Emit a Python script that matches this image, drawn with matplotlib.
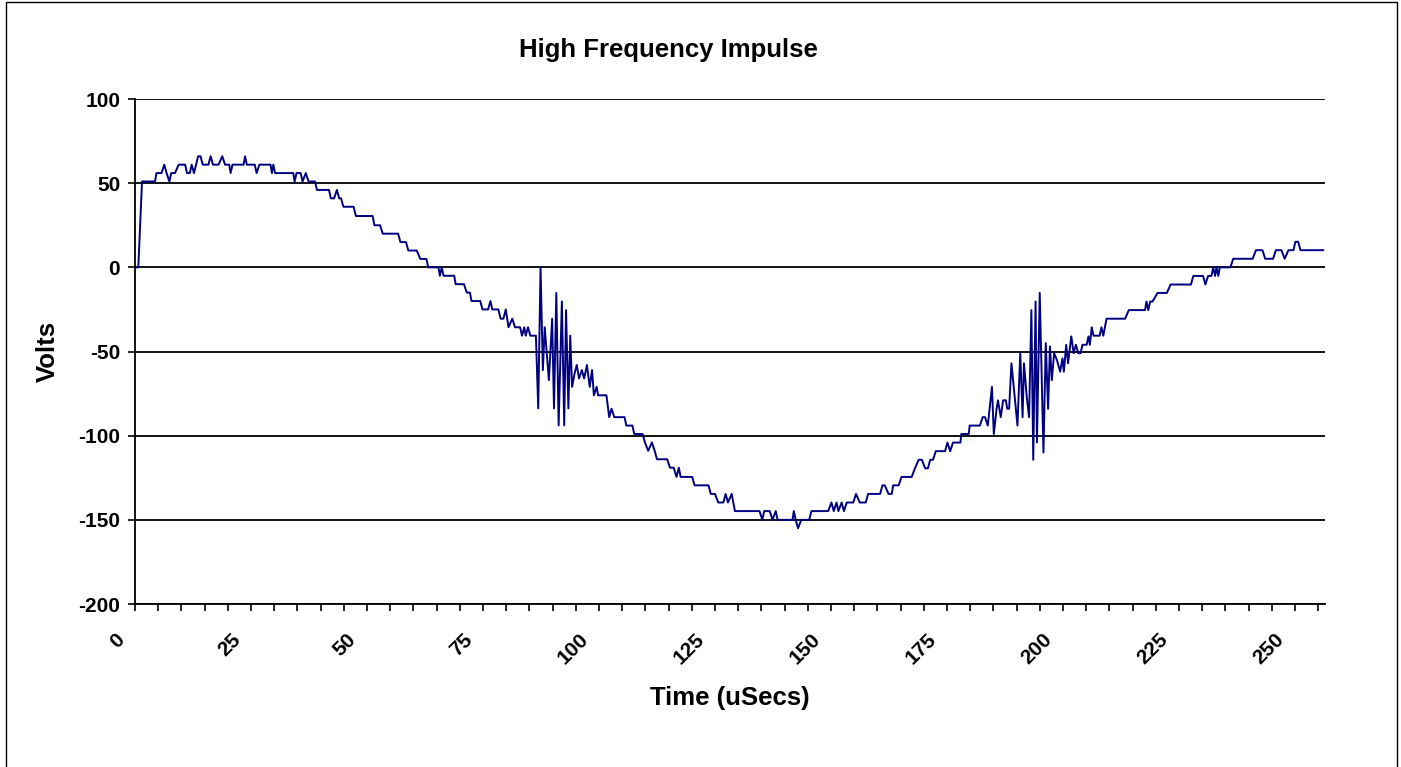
import matplotlib
matplotlib.use("Agg")
import matplotlib.pyplot as plt
from matplotlib.patches import Rectangle
from matplotlib.ticker import MultipleLocator
from matplotlib.transforms import ScaledTranslation

plt.rcParams["font.family"] = ["Liberation Sans", "DejaVu Sans"]
plt.rcParams["axes.unicode_minus"] = False

# Messpunkte (Zeit in us, Spannung in V)
t_us = [
    0, 0.7, 1.5, 4.3, 4.6, 5.7, 6.3, 6.8, 7.4, 7.8, 8.6, 9.4, 10.8, 11.2, 11.8, 12.2, 12.7,
    13.6, 14.1, 14.6, 15.8, 16.3, 16.8, 18.0, 18.8, 19.4, 20.3, 20.6, 21.0, 23.4, 23.7, 24.1,
    25.8, 26.2, 26.8, 29.2, 29.5, 29.8, 30.2, 34.1, 34.4, 34.8, 35.7, 36.1, 36.8, 37.4, 38.8,
    39.2, 41.8,
    42.2, 42.9, 43.5, 44.0, 44.4, 44.9, 47.1, 47.6, 51.2, 51.6, 52.8, 53.4, 56.7, 57.2, 58.4,
    58.9, 60.7, 61.5, 62.8, 63.2, 65.4, 65.7, 66.1, 66.5, 68.8, 69.1, 70.9, 71.5, 72.2, 72.5,
    74.4, 74.9, 76.1, 76.6, 77.0, 78.3, 78.8, 79.4, 79.9, 80.5, 81.3, 81.9,
    83.0, 83.4, 83.9, 84.2, 84.7, 85.2, 86.4, 86.9, 87.4, 87.9, 88.3, 89.2, 89.9, 90.3, 90.8,
    91.3, 92.0, 92.5, 92.9, 93.4, 93.8, 94.2, 94.7, 95.2, 95.7, 96.3, 96.8, 97.4, 98.0, 98.5,
    98.9, 99.5, 99.8, 101.6, 102.2, 102.7, 103.3, 105.5, 105.9, 107.2, 107.6, 109.4, 109.9,
    110.6, 111.4, 112.0, 112.5, 114.7, 115.3, 116.1, 116.7, 117.2, 117.6, 120.1, 120.6,
    123.6, 124.1, 125.0, 125.7, 126.8, 127.3, 127.8, 128.6, 129.3, 134.6, 135.2, 135.6, 136.8,
    137.4, 138.1, 138.5, 141.7, 142.0, 142.4, 142.9, 143.6, 145.3, 145.8, 149.4, 150.1, 150.6,
    151.2, 151.6, 152.3, 152.8, 153.4, 154.8, 155.4, 156.2, 157.5, 158.0, 159.1, 160.6, 161.1,
    161.6, 162.4, 163.1, 163.4, 164.6,
    165.2, 167.4, 168.1, 168.9, 169.6, 170.3, 170.9, 171.4, 172.0, 172.6, 174.6, 175.1, 175.7,
    176.3, 177.9, 178.1, 179.7, 179.9, 182.1, 182.7, 183.2, 183.8, 184.7, 185.1, 185.7, 186.0,
    186.6, 187.1, 187.7, 188.0, 188.4, 188.9, 190.2, 190.8, 191.3, 191.6, 192.2, 192.7, 193.2,
    193.6, 194.1, 194.4, 195.0, 195.8, 196.3, 196.8, 197.2, 197.6, 198.1, 198.7, 199.4, 199.9,
    200.2, 200.7, 201.1, 201.8, 202.3, 202.8, 203.3, 203.8, 204.2, 205.1, 205.5, 205.8,
    206.2, 206.6, 207.9, 208.3, 208.7, 209.4, 213.4, 214.2, 217.7, 218.0, 218.4, 218.8, 219.3,
    220.4, 222.4, 223.2, 227.6, 228.1, 230.2, 230.7, 231.3, 232.0, 232.4, 232.8, 233.1, 233.5,
    233.8, 236.1, 236.7, 240.9, 241.6, 243.0, 243.6, 245.3, 245.9, 247.1, 247.8, 248.6, 249.7,
    250.1, 250.7, 251.2, 256.1,
]
volts = [
    0, 0, 51, 51, 56, 56, 61, 56, 51, 56, 56, 61, 61, 56, 56, 61, 56,
    66, 66, 61, 61, 66, 61, 61, 66, 61, 61, 56, 61, 61, 66, 61,
    61, 56, 61, 61, 56, 61, 56, 56, 51, 56, 56, 51, 56, 51, 51,
    46, 46,
    41, 41, 46, 41, 41, 36, 36, 30.5, 30.5, 25, 25, 20, 20, 15, 15,
    10, 10, 5, 5, 0, 0, -5, 0, -5, -5, -10, -10, -15, -15, -20,
    -20, -25, -25, -20, -25, -25, -30.5, -30.5, -25, -35.6, -30.5, -35.6,
    -35.6, -40.6, -35.6, -40.6, -35.6, -40.6, -40.6, -83.8, 0, -61, -35.6, -67, -30.5, -83.8, -15.2,
    -93.9, -20.3, -93.9, -25.4, -83.8, -40.6, -71, -63.5, -58, -66, -61, -66, -58, -71, -61,
    -76, -71, -76, -76, -89, -84, -89, -89, -94, -94, -99, -99, -104,
    -109, -104, -109, -114, -114, -119, -119, -124.5, -119, -124.5, -124.5, -129.5,
    -129.5, -134.6, -134.6, -139.7, -139.7, -134.6, -139.7, -134.6, -144.8, -144.8, -150, -144.8, -144.8,
    -150, -144.8, -150, -150, -144.8, -150, -155, -150, -150, -144.8, -144.8, -139.7, -144.8,
    -139.7, -144.8, -139.7, -144.8, -139.7, -139.7, -134.6, -139.7, -139.7, -134.6, -134.6, -134.6, -129.5,
    -129.5, -134.6, -134.6, -129.5, -129.5,
    -124.5, -124.5, -119.4, -114.3, -114.3, -119.4, -119.4, -114.3, -114.3, -109.2, -109.2, -104.1, -109.2,
    -104.1, -104.1, -99, -99, -94, -94, -89, -89, -94, -71, -99, -84, -79,
    -89, -79, -79, -84, -84, -57, -94, -51, -89, -57, -77, -89, -25.4,
    -114.3, -20.3, -104, -15.2, -110, -45, -84, -47, -67, -51, -55, -62, -54,
    -62, -46, -57, -41, -51, -46, -51, -51, -46, -46, -41, -46,
    -35.6, -40.6, -40.6, -35.6, -40.6, -30.5, -30.5, -25.4, -25.4, -20.3, -25.4, -20.3, -20.3,
    -15.2, -15.2, -10.2, -10.2, -5.1, -5.1, -10.2, -5.1, -5.1, 0, -5.1, 0, -5.1,
    0, 0, 5.1, 5.1, 10.2, 10.2, 5.1, 5.1, 10.2, 10.2, 5.1, 10.2, 10.2,
    15.2, 15.2, 10.2, 10.2,
]

fig = plt.figure(figsize=(14.01, 7.67), dpi=100)
ax = fig.add_axes([0.0964, 0.2125, 0.8494, 0.6584])

ax.plot(t_us, volts, color="#000080", linewidth=1.4)

ax.set_xlim(0, 256.5)
ax.set_ylim(-200, 100)
ax.xaxis.set_major_locator(MultipleLocator(25))
ax.xaxis.set_minor_locator(MultipleLocator(5))
ax.yaxis.set_major_locator(MultipleLocator(50))
ax.grid(axis="y", color="black", linewidth=1.3)
ax.set_axisbelow(True)

for s in ["top", "right"]:
    ax.spines[s].set_visible(False)
for s in ["left", "bottom"]:
    ax.spines[s].set_linewidth(1.3)

ax.tick_params(axis="both", which="both", direction="out", width=1.2, length=4.7, labelsize=15)
ax.tick_params(axis="x", which="major", pad=14)
ax.tick_params(axis="y", pad=6)

# Beschriftung etwas links vom Teilstrich, wie im Original
shift = ScaledTranslation(-7 / 100, 0, fig.dpi_scale_trans)
for lbl in ax.get_xticklabels():
    lbl.set_rotation(45)
    lbl.set_ha("right")
    lbl.set_va("top")
    lbl.set_fontweight("bold")
    lbl.set_transform(lbl.get_transform() + shift)
for lbl in ax.get_yticklabels():
    lbl.set_fontweight("bold")

ax.set_xlabel("Time (uSecs)", fontsize=18.5, fontweight="bold")
ax.xaxis.set_label_coords(0.5, -0.162)
ax.set_ylabel("Volts", fontsize=18.5, fontweight="bold")
ax.yaxis.set_label_coords(-0.063, 0.5)
fig.text(0.477, 0.935, "High Frequency Impulse", ha="center", va="center",
         fontsize=18.5, fontweight="bold")

# Rahmen um das Diagramm
fig.patches.append(Rectangle((0.004, -0.05), 0.993, 1.048, transform=fig.transFigure,
                             fill=False, edgecolor="black", linewidth=1.0))

fig.savefig("out.png", dpi=100)
